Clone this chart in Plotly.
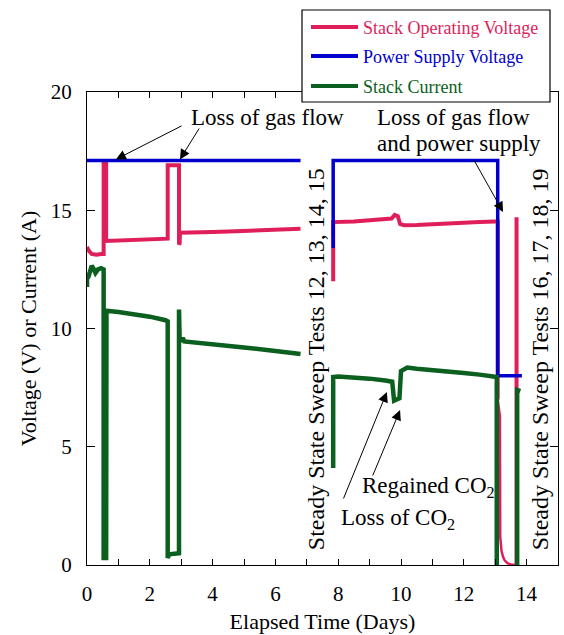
import plotly.graph_objects as go

# ---- measured data (elapsed time in days); None separates test runs ----
time_stack_v = [0.0, 0.05, 0.15, 0.3, 0.45, 0.53, 0.53, 0.61, 0.61, 1.0, 1.5, 2.0, 2.3, 2.57,
                2.57, 2.93, 2.93, 2.95, 2.96, 3.5, 4.0, 4.5, 5.0, 5.5, 6.0, 6.5, 6.8,
                None,
                7.84, 7.84, 8.5, 9.0, 9.5, 9.7, 9.8, 9.9, 9.97, 10.1, 10.5, 11.0, 11.5,
                12.0, 12.5, 13.0, 13.08, 13.08,
                None,
                13.68, 13.68]
stack_v = [13.45, 13.3, 13.15, 13.12, 13.15, 13.15, 17.0, 17.0, 13.7, 13.72, 13.75, 13.78, 13.78, 13.8,
           16.9, 16.9, 13.55, 13.6, 14.05, 14.05, 14.08, 14.1, 14.12, 14.15, 14.18, 14.2, 14.22,
           None,
           12.0, 14.5, 14.52, 14.56, 14.6, 14.65, 14.8, 14.75, 14.42, 14.37, 14.38, 14.42, 14.45,
           14.48, 14.5, 14.52, 14.52, 7.0,
           None,
           0.0, 14.7]

# stack voltage decay after the day-13 shutdown
time_stack_v_off = [13.08, 13.15, 13.16, 13.2, 13.25, 13.3, 13.4, 13.5, 13.68]
stack_v_off = [7.0, 6.3, 1.2, 0.6, 0.35, 0.2, 0.07, 0.02, 0.0]

time_supply_v = [0.0, 6.8, None, 7.84, 7.84, 13.08, 13.08, 13.85]
supply_v = [17.1, 17.1, None, 13.4, 17.1, 17.1, 8.0, 8.0]

time_current = [0.0, 0.0, 0.05, 0.1, 0.15, 0.2, 0.27, 0.35, 0.45, 0.53, 0.53, 0.61, 0.62,
                1.0, 1.5, 2.0, 2.5, 2.57, 2.57, 2.62, 2.93, 2.93, 2.95, 3.0, 3.05, 3.1,
                3.5, 4.0, 5.0, 6.0, 6.8,
                None,
                7.84, 7.84, 8.0, 8.5, 9.0, 9.5, 9.72, 9.78, 9.95, 10.0, 10.2, 10.5, 11.0,
                11.5, 12.0, 12.5, 13.0, 13.05, 13.05,
                None,
                13.7, 13.7, 13.8]
current = [11.75, 12.1, 12.2, 12.5, 12.65, 12.55, 12.35, 12.5, 12.55, 12.5, 0.3, 0.3, 10.75,
           10.7, 10.6, 10.5, 10.35, 10.3, 0.3, 0.45, 0.5, 10.8, 9.6, 9.45, 9.6, 9.45,
           9.4, 9.35, 9.2, 9.05, 8.92,
           None,
           4.1, 7.95, 7.97, 7.93, 7.88, 7.8, 7.75, 6.95, 7.05, 8.2, 8.35, 8.3, 8.25,
           8.2, 8.12, 8.05, 7.97, 7.95, 0.0,
           None,
           0.0, 7.4, 7.35]

x_tick_vals = list(range(0, 16))
x_tick_text = [str(v) if v % 2 == 0 else "" for v in x_tick_vals]

PINK = "#E01E5A"
BLUE = "#0000CC"
GREEN = "#0B6020"
FONT = "Liberation Serif"

fig = go.Figure()
fig.add_trace(go.Scatter(x=time_stack_v_off, y=stack_v_off, mode="lines", showlegend=False,
                         line=dict(color=PINK, width=2.5)))
fig.add_trace(go.Scatter(x=time_stack_v, y=stack_v, mode="lines", name="Stack Operating Voltage",
                         line=dict(color=PINK, width=4), showlegend=False))
fig.add_trace(go.Scatter(x=time_supply_v, y=supply_v, mode="lines", name="Power Supply Voltage",
                         line=dict(color=BLUE, width=3.5), showlegend=False))
fig.add_trace(go.Scatter(x=time_current, y=current, mode="lines", name="Stack Current",
                         line=dict(color=GREEN, width=4.5), showlegend=False))

# plot area in pixels
L, R, T, B = 87, 558, 92, 565
W, H = 564, 635


def px(xp):
    return (xp - L) / (R - L)


def py(yp):
    return (B - yp) / (B - T)


# legend box drawn on top of the frame
legend_items = [("Stack Operating Voltage", PINK, 27), ("Power Supply Voltage", BLUE, 56),
                ("Stack Current", GREEN, 86)]
shapes = [dict(type="rect", xref="paper", yref="paper", x0=px(302), x1=px(550), y0=py(102), y1=py(10),
               line=dict(color="black", width=1.2), fillcolor="white", layer="above")]
annotations = []
for label, color, yrow in legend_items:
    shapes.append(dict(type="line", xref="paper", yref="paper", x0=px(311), x1=px(358),
                       y0=py(yrow), y1=py(yrow), line=dict(color=color, width=4), layer="above"))
    annotations.append(dict(xref="paper", yref="paper", x=px(361), y=py(yrow + 1), text=label,
                            showarrow=False, xanchor="left", yanchor="middle",
                            font=dict(family=FONT, size=18, color=color)))

txt = dict(family=FONT, size=23, color="black")
arrow_style = dict(showarrow=True, arrowhead=2, arrowsize=2, arrowwidth=1, arrowcolor="black",
                   axref="x", ayref="y", text="")

annotations += [
    dict(x=5.76, y=18.94, text="Loss of gas flow", showarrow=False, font=txt),
    dict(x=0.92, y=17.15, ax=3.06, ay=18.6, **arrow_style),
    dict(x=2.96, y=17.15, ax=3.6, ay=18.52, **arrow_style),
    dict(x=11.66, y=18.94, text="Loss of gas flow", showarrow=False, font=txt),
    dict(x=11.85, y=17.84, text="and power supply", showarrow=False, font=txt),
    dict(x=13.25, y=14.93, ax=12.29, ay=17.2, **arrow_style),
    dict(x=10.86, y=3.3, text="Regained CO<sub>2</sub>", showarrow=False, font=txt),
    dict(x=9.97, y=6.55, ax=9.08, ay=3.72, **arrow_style),
    dict(x=9.9, y=1.95, text="Loss of CO<sub>2</sub>", showarrow=False, font=txt),
    dict(x=9.55, y=7.31, ax=8.15, ay=2.75, **arrow_style),
    dict(x=7.29, y=8.7, text="Steady State Sweep Tests 12, 13, 14, 15", textangle=-90,
         showarrow=False, font=dict(family=FONT, size=24, color="black")),
    dict(x=14.43, y=8.7, text="Steady State Sweep Tests 16, 17, 18, 19", textangle=-90,
         showarrow=False, font=dict(family=FONT, size=24, color="black")),
]

axis_common = dict(showline=True, linecolor="black", linewidth=1, mirror="ticks", ticks="inside",
                   tickcolor="black", showgrid=False, zeroline=False,
                   tickfont=dict(family=FONT, size=21, color="black"))

fig.update_layout(
    width=W, height=H,
    margin=dict(l=L, r=W - R, t=T, b=H - B, autoexpand=False),
    paper_bgcolor="white", plot_bgcolor="white",
    font=dict(family=FONT, color="black"),
    showlegend=False,
    xaxis=dict(range=[0, 15], tickvals=x_tick_vals, ticktext=x_tick_text, ticklen=6,
               ticklabelstandoff=10,
               title=dict(text="Elapsed Time (Days)", font=dict(family=FONT, size=22), standoff=8),
               **axis_common),
    yaxis=dict(range=[0, 20], tickvals=[0, 5, 10, 15, 20], ticklen=8, ticklabelstandoff=10,
               title=dict(text="Voltage (V) or Current (A)", font=dict(family=FONT, size=22), standoff=8),
               **axis_common),
    shapes=shapes,
    annotations=annotations,
)

fig.write_html("out.html")
